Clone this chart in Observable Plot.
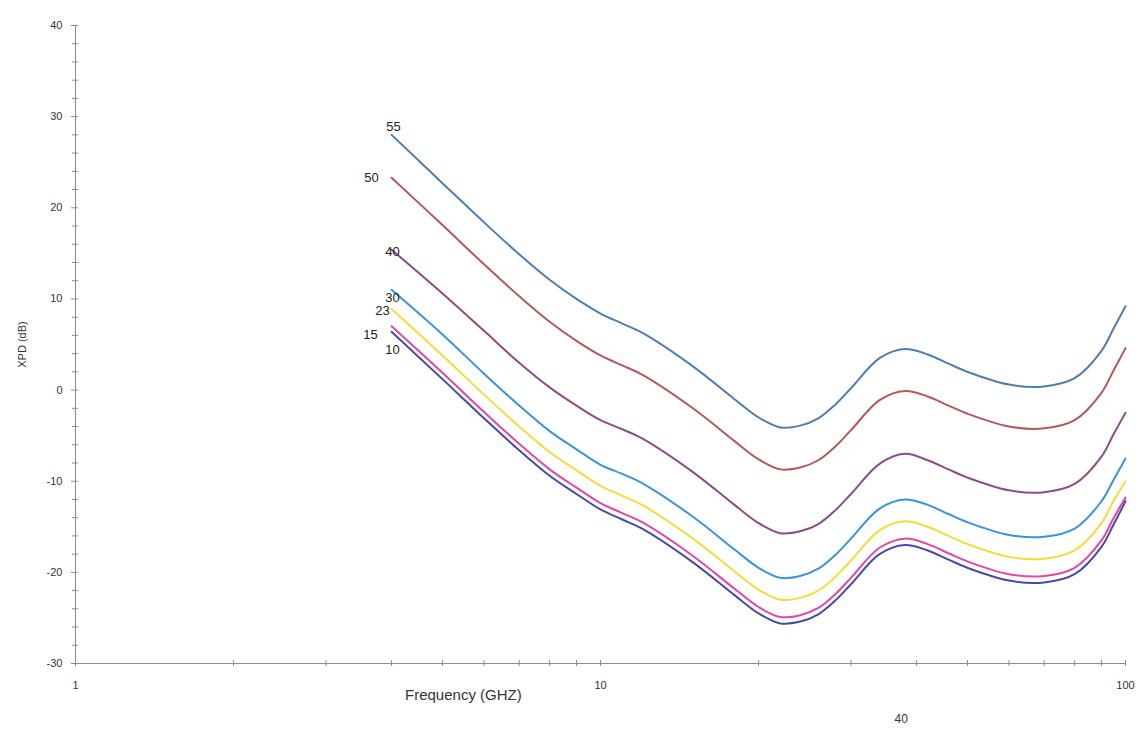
<!DOCTYPE html>
<html>
<head>
<meta charset="utf-8">
<script src="https://cdn.jsdelivr.net/npm/d3@7"></script>
<script src="https://cdn.jsdelivr.net/npm/@observablehq/plot@0.6"></script>
<style>
  html, body { margin: 0; padding: 0; background: #fff; overflow: hidden; }
  #chart svg { display: block; }
</style>
</head>
<body>
<div id="chart"></div>
<script>
// Frequency samples (GHz) shared by every curve
const freqs = [4, 5, 6, 7, 8, 9, 10, 11, 12, 15, 18, 20, 22, 24, 26, 28, 30, 34, 38, 42, 46, 50, 60, 70, 80, 90, 95, 100];

// XPD (dB) per curve, one value per frequency sample
const xpd55 = [28.0, 22.7, 18.4, 14.9, 12.1, 10.0, 8.4, 7.3, 6.3, 2.6, -1.0, -3.0, -4.1, -3.9, -3.1, -1.6, 0.2, 3.5, 4.5, 3.9, 2.9, 2.0, 0.6, 0.4, 1.3, 4.3, 6.8, 9.2];
const xpd50 = [23.3, 18.1, 13.8, 10.3, 7.5, 5.4, 3.8, 2.7, 1.7, -2.0, -5.6, -7.6, -8.7, -8.5, -7.7, -6.2, -4.4, -1.1, -0.1, -0.7, -1.7, -2.6, -4.0, -4.2, -3.3, -0.3, 2.2, 4.6];
const xpd40 = [15.4, 10.6, 6.5, 3.0, 0.3, -1.7, -3.3, -4.3, -5.3, -9.0, -12.6, -14.6, -15.7, -15.5, -14.7, -13.2, -11.4, -8.1, -7.0, -7.7, -8.7, -9.6, -11.0, -11.2, -10.3, -7.3, -4.8, -2.5];
const xpd30 = [11.0, 6.1, 1.8, -1.7, -4.5, -6.5, -8.2, -9.2, -10.2, -13.9, -17.5, -19.5, -20.6, -20.4, -19.6, -18.1, -16.3, -13.0, -12.0, -12.6, -13.6, -14.5, -15.9, -16.1, -15.2, -12.2, -9.8, -7.5];
const xpd23 = [8.9, 3.8, -0.5, -4.0, -6.8, -8.8, -10.5, -11.6, -12.6, -16.3, -19.9, -21.9, -23.0, -22.8, -22.0, -20.5, -18.7, -15.4, -14.4, -15.0, -16.0, -16.9, -18.3, -18.5, -17.6, -14.6, -12.1, -10.0];
const xpd15 = [7.0, 1.9, -2.4, -5.9, -8.7, -10.7, -12.4, -13.5, -14.5, -18.2, -21.8, -23.8, -24.9, -24.7, -23.9, -22.4, -20.6, -17.3, -16.3, -16.9, -17.9, -18.8, -20.2, -20.4, -19.5, -16.5, -14.0, -11.8];
const xpd10 = [6.4, 1.2, -3.1, -6.6, -9.4, -11.4, -13.1, -14.2, -15.2, -18.9, -22.5, -24.5, -25.6, -25.4, -24.6, -23.1, -21.3, -18.0, -17.0, -17.6, -18.6, -19.5, -20.9, -21.1, -20.2, -17.2, -14.7, -12.2];

const seriesNames = ["55", "50", "40", "30", "23", "15", "10"];
const seriesValues = [xpd55, xpd50, xpd40, xpd30, xpd23, xpd15, xpd10];

// Axis ticks
const xTickLabels = [1, 10, 100];
const xMinorTicks = [2, 3, 4, 5, 6, 7, 8, 9, 20, 30, 40, 50, 60, 70, 80, 90];
const yTickLabels = [-30, -20, -10, 0, 10, 20, 30, 40];
const yMinorTicks = [-28, -26, -24, -22, -18, -16, -14, -12, -8, -6, -4, -2, 2, 4, 6, 8, 12, 14, 16, 18, 22, 24, 26, 28, 32, 34, 36, 38];

// Line colours per curve
const lineColors = {
  "55": "#4f7fa9",
  "50": "#b3585c",
  "40": "#8d4c86",
  "30": "#3b93dc",
  "23": "#f2dc3a",
  "15": "#de48a6",
  "10": "#4a4aa6"
};

// Offsets of the curve name labels from each curve's first point (px)
const labelShift = {
  "55": [2, -8],
  "50": [-20, 0],
  "40": [1, 2],
  "30": [1, 8],
  "23": [-9, 2],
  "15": [-21, 9],
  "10": [1, 18]
};

const rows = seriesNames.flatMap((name, i) =>
  freqs.map((f, j) => ({name, f, xpd: seriesValues[i][j]}))
);
const starts = seriesNames.map((name, i) => ({name, f: freqs[0], xpd: seriesValues[i][0]}));

const axisColor = "#8c8c8c";
const textColor = "#333";

const chart = Plot.plot({
  width: 1142,
  height: 729,
  marginLeft: 75,
  marginRight: 17,
  marginTop: 25,
  marginBottom: 66,
  x: {type: "log", domain: [1, 100]},
  y: {domain: [-30, 40]},
  color: {domain: seriesNames, range: seriesNames.map((n) => lineColors[n])},
  style: {fontFamily: "'Liberation Sans', Arial, sans-serif", background: "#fff", color: textColor},
  marks: [
    // axis lines
    Plot.ruleY([-30], {stroke: axisColor}),
    Plot.ruleX([1], {stroke: axisColor}),
    // crossing tick marks
    Plot.ruleX([...xTickLabels, ...xMinorTicks], {x: (d) => d, y1: -30, y2: -30, insetTop: -3, insetBottom: -3, stroke: axisColor}),
    Plot.ruleY(yTickLabels, {y: (d) => d, x1: 1, x2: 1, insetLeft: -4, insetRight: -3, stroke: axisColor}),
    Plot.ruleY(yMinorTicks, {y: (d) => d, x1: 1, x2: 1, insetLeft: -3, insetRight: -3, stroke: axisColor}),
    // tick labels (plain hyphen for negatives)
    Plot.axisX(xTickLabels, {tickSize: 0, tickPadding: 18, fontSize: 11, label: null, tickFormat: (d) => String(d)}),
    Plot.axisY(yTickLabels, {tickSize: 0, tickPadding: 13, fontSize: 11, label: null, tickFormat: (d) => String(d)}),
    // axis titles
    Plot.text(["Frequency (GHZ)"], {frameAnchor: "bottom", x: 5.48, dy: 36, fontSize: 15, fill: textColor}),
    Plot.text(["XPD (dB)"], {frameAnchor: "left", textAnchor: "middle", dx: -53, rotate: -90, fontSize: 11, fill: textColor}),
    Plot.text(["40"], {frameAnchor: "bottom", x: 37.4, dy: 59, fontSize: 12, fill: textColor}),
    // curves
    Plot.line(rows, {x: "f", y: "xpd", z: "name", stroke: "name", strokeWidth: 2, curve: "catmull-rom"}),
    // curve name labels
    ...starts.map((s) =>
      Plot.text([s], {x: "f", y: "xpd", text: "name", dx: labelShift[s.name][0], dy: labelShift[s.name][1], fontSize: 13, fill: "#222"})
    )
  ]
});

document.getElementById("chart").append(chart);
</script>
</body>
</html>
